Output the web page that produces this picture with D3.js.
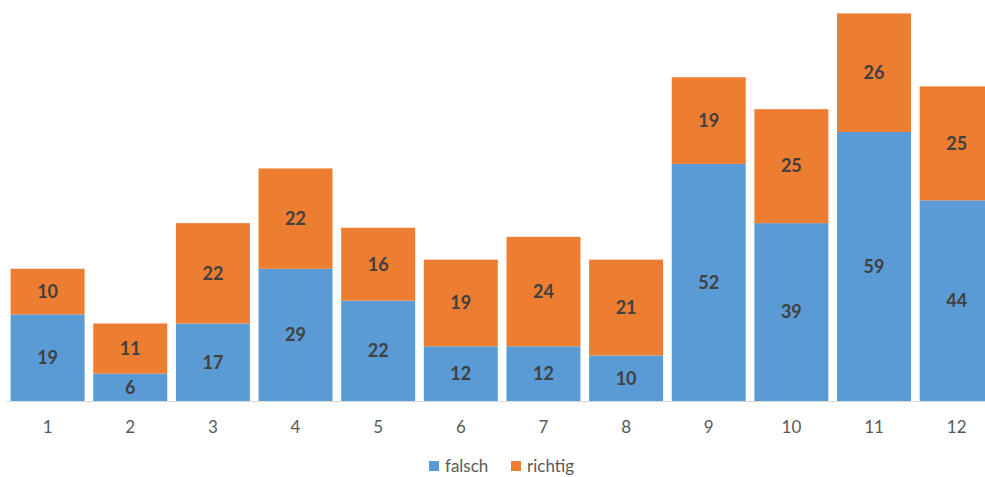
<!DOCTYPE html>
<html><head><meta charset="utf-8">
<script src="https://cdn.jsdelivr.net/npm/d3@7"></script>
<style>html,body{margin:0;padding:0;background:#fff;overflow:hidden;}</style>
</head><body>
<script>
const categories = ["1","2","3","4","5","6","7","8","9","10","11","12"];
const falsch = [19,6,17,29,22,12,12,10,52,39,59,44];
const richtig = [10,11,22,22,16,19,24,21,19,25,26,25];
const seriesNames = ["falsch","richtig"];
const colors = ["#5B9BD5","#ED7D31"];

const W = 985, H = 477;
const svg = d3.select("body").append("svg").attr("width", W).attr("height", H);
const font = "Lato, 'Open Sans', sans-serif";

const rows = categories.map((c,i)=>({cat:c, falsch:falsch[i], richtig:richtig[i]}));
const stack = d3.stack().keys(seriesNames)(rows);

const x = d3.scaleBand().domain(categories).range([6.3, 6.3 + 82.64*12]).paddingInner(0.105).paddingOuter(0.0525);
const y = d3.scaleLinear().domain([0, 85]).range([401, 13.4]);

const g = svg.append("g");
stack.forEach((s, si) => {
  g.selectAll(null).data(s).enter().append("rect")
    .attr("x", d => x(d.data.cat))
    .attr("width", x.bandwidth())
    .attr("y", d => y(d[1]))
    .attr("height", d => y(d[0]) - y(d[1]))
    .attr("fill", colors[si]);
  g.selectAll(null).data(s).enter().append("text")
    .attr("x", d => x(d.data.cat) + x.bandwidth()/2)
    .attr("y", d => (y(d[0]) + y(d[1]))/2)
    .attr("dy", "0.35em")
    .attr("text-anchor", "middle")
    .attr("font-family", font).attr("font-weight", "bold").attr("font-size", 18)
    .attr("fill", "#404040")
    .text(d => d[1]-d[0]);
});

const axis = svg.append("g").attr("transform", "translate(0,401)")
  .call(d3.axisBottom(x).tickSize(0).tickPadding(20));
axis.select(".domain").attr("stroke", "#d9d9d9").attr("d", "M6.5,0.5H985");
axis.selectAll("text").attr("font-family", font).attr("font-size", 17).attr("fill", "#595959");

const leg = svg.append("g");
const legX = [429, 511];
seriesNames.forEach((n,i) => {
  leg.append("rect").attr("x", legX[i]).attr("y", 461).attr("width", 10).attr("height", 10).attr("fill", colors[i]);
  leg.append("text").attr("x", legX[i] + 16).attr("y", 466).attr("dy", "0.35em")
    .attr("font-family", font).attr("font-size", 17).attr("fill", "#595959").text(n);
});
</script>
</body></html>
